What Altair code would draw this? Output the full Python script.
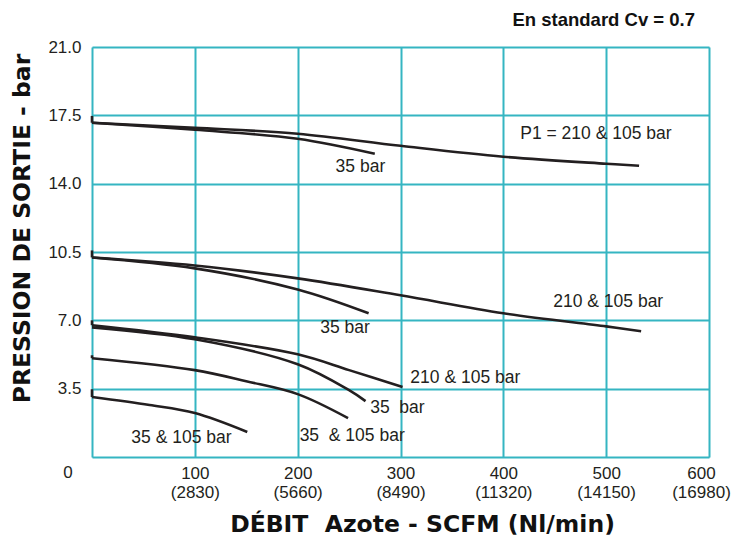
import altair as alt
import pandas as pd

# ---- curve data (x = SCFM, y = bar) ----
top210_x = [0, 100, 200, 300, 400, 500, 532]
top210_y = [17.12, 16.86, 16.56, 15.94, 15.38, 15.02, 14.92]
top35_x = [0, 100, 200, 275]
top35_y = [17.12, 16.76, 16.30, 15.53]
mid210_x = [0, 100, 200, 300, 400, 500, 534]
mid210_y = [10.22, 9.81, 9.15, 8.28, 7.36, 6.69, 6.44]
mid35_x = [0, 100, 200, 269]
mid35_y = [10.22, 9.66, 8.58, 7.36]
low210_x = [0, 100, 200, 250, 302]
low210_y = [6.75, 6.13, 5.26, 4.45, 3.58]
low35_x = [0, 100, 200, 250, 266]
low35_y = [6.64, 6.03, 4.75, 3.42, 2.86]
b35_x = [0, 100, 150, 200, 249]
b35_y = [5.06, 4.45, 3.88, 3.22, 1.99]
c35_x = [0, 56, 100, 151]
c35_y = [3.07, 2.66, 2.25, 1.28]

series = {
    "top210": (top210_x, top210_y),
    "top35": (top35_x, top35_y),
    "mid210": (mid210_x, mid210_y),
    "mid35": (mid35_x, mid35_y),
    "low210": (low210_x, low210_y),
    "low35": (low35_x, low35_y),
    "b35": (b35_x, b35_y),
    "c35": (c35_x, c35_y),
}

# start ticks
tick_x = [0, 0, 0, 0, 0]
tick_top = [17.47, 10.58, 7.0, 5.21, 3.47]
tick_bottom = [17.12, 10.22, 6.75, 5.06, 3.07]

# annotations
lbl_text = ["P1 = 210 & 105 bar", "35 bar", "210 & 105 bar", "35 bar",
            "210 & 105 bar", "35\u00a0 bar", "35\u00a0 & 105 bar", "35 & 105 bar"]
lbl_x = [490, 261, 502, 246, 363, 297, 253, 87]
lbl_y = [16.55, 14.87, 7.92, 6.59, 4.04, 2.50, 1.07, 0.97]

# axes
x_ticks = [0, 100, 200, 300, 400, 500, 600]
x_sub = ["", "(2830)", "(5660)", "(8490)", "(11320)", "(14150)", "(16980)"]
y_ticks = [0, 3.5, 7.0, 10.5, 14.0, 17.5, 21.0]

title_text = "En standard Cv = 0.7"

rows = []
for name, (xs_, ys_) in series.items():
    for i, (a, b) in enumerate(zip(xs_, ys_)):
        rows.append({"s": name, "i": i, "x": a, "y": b})
df = pd.DataFrame(rows)
ticks_df = pd.DataFrame({"x": tick_x, "top": tick_top, "bottom": tick_bottom})
lbl_df = pd.DataFrame({"t": lbl_text, "x": lbl_x, "y": lbl_y})
zero_df = pd.DataFrame({"x": [0], "y": [0], "t": ["0"]})
title_df = pd.DataFrame({"x": [600], "y": [21], "t": [title_text]})

# label expression for two-line x labels
expr = "''"
for v, s in reversed(list(zip(x_ticks, x_sub))):
    if s:
        expr = f"datum.value == {v} ? ['{v}', '{s}'] : " + expr

INK = "#231F20"
TEAL_GRID = "#35B5C2"
TEAL_BORDER = "#14A4B0"

xs = alt.Scale(domain=[0, 600], nice=False, zero=True)
ys = alt.Scale(domain=[0, 21], nice=False)

x_axis = alt.Axis(
    values=x_ticks, labelExpr=expr, labelOverlap=False, labelFlush=False,
    labelFont="Liberation Sans", labelFontSize=17, labelColor=INK,
    labelLineHeight=19, labelBaseline="top", labelPadding=8,
    labelOffset={"condition": {"test": "datum.value == 600", "value": -8}, "value": 0},
    ticks=False, domain=False, grid=True, gridColor=TEAL_GRID, gridWidth=2,
    title="DÉBIT\u00a0 Azote - SCFM (Nl/min)", titleFont="DejaVu Sans",
    titleFontWeight="bold", titleFontSize=23.5, titleColor="#111111",
    titleX=330, titleY=74, titleAlign="center", titleBaseline="alphabetic",
)
y_axis = alt.Axis(
    values=y_ticks, labelExpr="datum.value == 0 ? '' : format(datum.value, '.1f')",
    labelOverlap=False, labelFlush=False,
    labelFont="Liberation Sans", labelFontSize=17, labelColor=INK, labelPadding=11,
    ticks=False, domain=False, grid=True, gridColor=TEAL_GRID, gridWidth=2,
    title="PRESSION DE SORTIE - bar", titleFont="DejaVu Sans",
    titleFontWeight="bold", titleFontSize=23.5, titleColor="#111111",
    titleX=-70, titleY=181, titleAngle=-90, titleAlign="center", titleBaseline="middle",
)

lines = alt.Chart(df).mark_line(interpolate="catmull-rom", color=INK, strokeWidth=2.6).encode(
    x=alt.X("x:Q", scale=xs, axis=x_axis),
    y=alt.Y("y:Q", scale=ys, axis=y_axis),
    detail="s:N",
    order="i:Q",
)

rules = alt.Chart(ticks_df).mark_rule(color=INK, strokeWidth=2.6).encode(
    x="x:Q", y="top:Q", y2="bottom:Q"
)

labels = alt.Chart(lbl_df).mark_text(
    font="Liberation Sans", fontSize=17.5, color=INK, align="center", baseline="middle"
).encode(x="x:Q", y="y:Q", text="t:N")

zero = alt.Chart(zero_df).mark_text(
    font="Liberation Sans", fontSize=17, color=INK, align="center", baseline="middle",
    dx=-24, dy=16
).encode(x="x:Q", y="y:Q", text="t:N")

title = alt.Chart(title_df).mark_text(
    font="Liberation Sans", fontWeight="bold", fontSize=18.5, color="#111111",
    align="right", baseline="alphabetic", dx=-14, dy=-21
).encode(x="x:Q", y="y:Q", text="t:N")

chart = alt.layer(lines, rules, labels, zero, title).properties(
    width=617, height=410,
    autosize=alt.AutoSizeParams(type="none"),
    padding={"left": 84, "top": 39, "right": 22, "bottom": 80},
).configure_view(stroke=TEAL_BORDER, strokeWidth=3).configure(background="white")

chart.save("out.html", embed_options={"renderer": "svg", "actions": False})
